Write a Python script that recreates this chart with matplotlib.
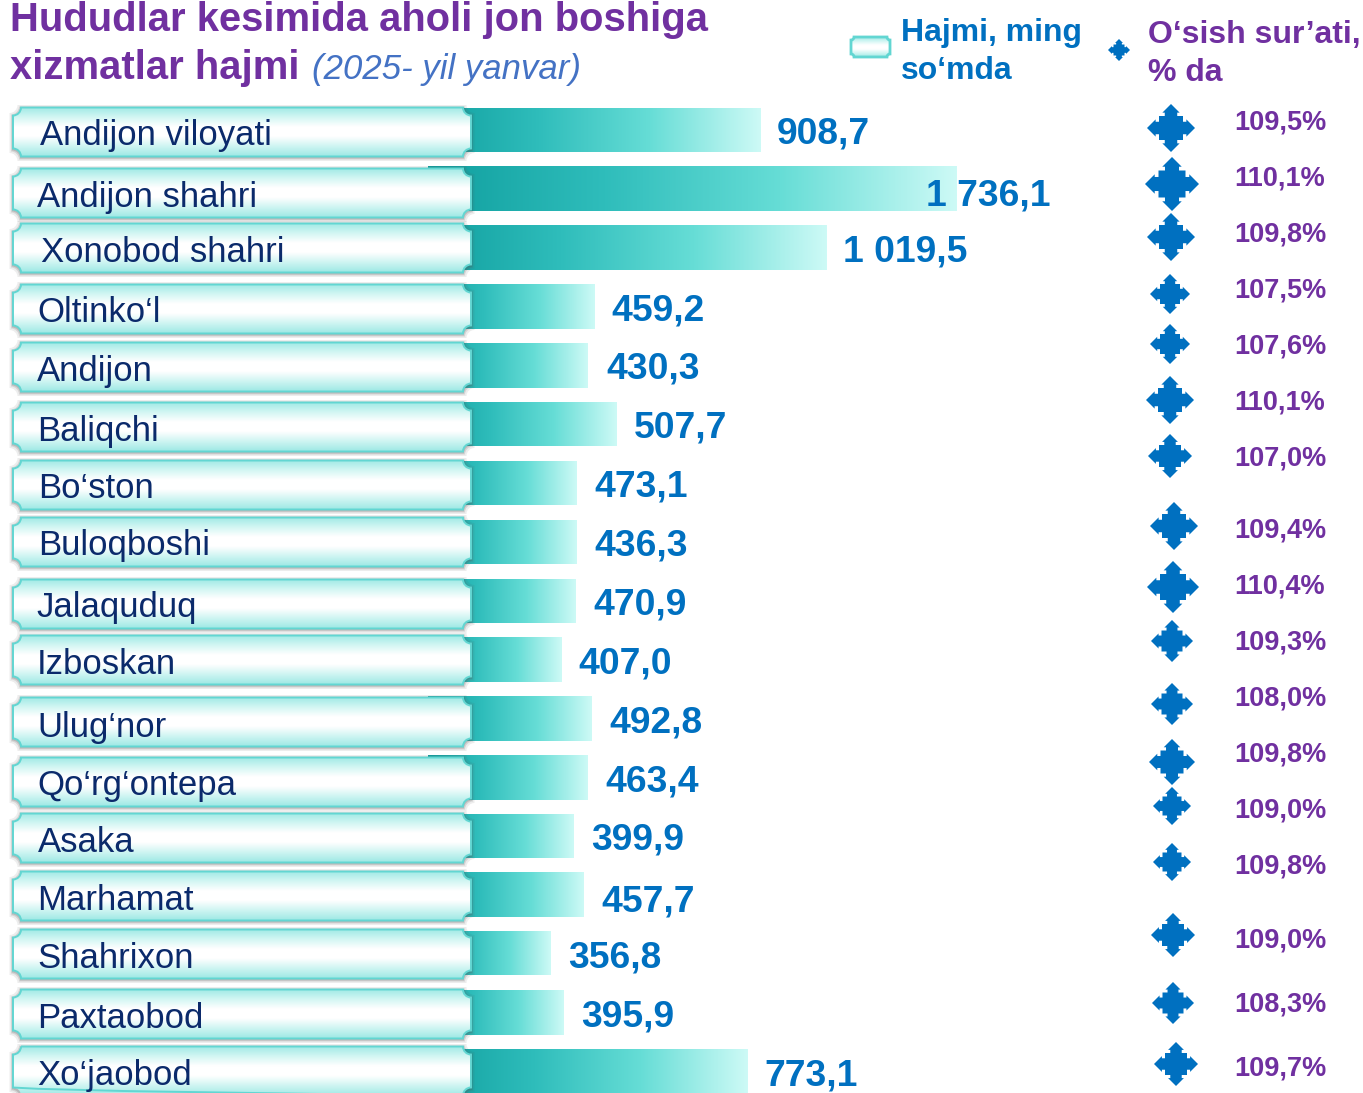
import numpy as np
import matplotlib
matplotlib.use("Agg")
import matplotlib.pyplot as plt
from matplotlib.path import Path
from matplotlib.patches import PathPatch, Rectangle
from matplotlib.colors import LinearSegmentedColormap

plt.rcParams['font.family'] = ['Liberation Sans', 'DejaVu Sans']

regions = ["Andijon viloyati", "Andijon shahri", "Xonobod shahri", "Oltinko‘l", "Andijon", "Baliqchi",
           "Bo‘ston", "Buloqboshi", "Jalaquduq", "Izboskan", "Ulug‘nor", "Qo‘rg‘ontepa", "Asaka",
           "Marhamat", "Shahrixon", "Paxtaobod", "Xo‘jaobod"]
value_labels = ["908,7", "1 736,1", "1 019,5", "459,2", "430,3", "507,7", "473,1", "436,3", "470,9",
                "407,0", "492,8", "463,4", "399,9", "457,7", "356,8", "395,9", "773,1"]
growth_labels = ["109,5%", "110,1%", "109,8%", "107,5%", "107,6%", "110,1%", "107,0%", "109,4%", "110,4%",
                 "109,3%", "108,0%", "109,8%", "109,0%", "109,8%", "109,0%", "108,3%", "109,7%"]
# drawn bar ends
bar_ends = [761, 957, 827, 595, 588, 617, 577, 577, 576, 562, 592, 588, 574, 584, 551, 564, 748]
bar_y = [130, 188.5, 247.5, 306.5, 365.5, 424, 483, 542, 601, 659.5, 718.5, 777.5, 836, 894.5, 953, 1012.5, 1071]
box_y = [132, 193, 248, 309, 367, 427, 485, 542, 604, 660, 722, 782, 838, 896, 954, 1014, 1071]
text_y = [136, 197, 252, 313, 371, 432, 489, 546, 608, 664, 727, 786, 842, 900, 958, 1019, 1075]
text_x = [40, 37, 41, 37, 37, 37, 38, 38, 36, 37, 37, 37, 38, 37, 37, 37, 37]
val_x = [777, 926, 843, 611, 606, 634, 594, 594, 593, 578, 609, 605, 591, 601, 568, 581, 764]
val_y = [134, 196, 252, 311, 369, 428, 487, 546, 605, 664, 723, 782, 840, 902, 958, 1017, 1076]
pct_y = [123, 179, 235, 291, 347, 403, 459, 531, 587, 643, 699, 755, 811, 867, 940, 1005, 1069]
mark_x = [1171, 1172, 1171, 1170, 1170, 1170, 1170, 1174, 1173, 1172, 1172, 1172, 1172, 1172, 1173, 1173, 1176]
mark_y = [128, 184, 237, 294, 344, 400, 456, 526, 587, 641, 704, 762, 806, 862, 935, 1003, 1064]
mark_s = [48, 54, 48, 40, 40, 48, 44, 48, 52, 42, 42, 46, 38, 38, 44, 42, 44]

PURPLE = "#7030A0"
BLUE = "#0070C0"
NAVY = "#0B2A6B"

fig = plt.figure(figsize=(13.63, 10.93), dpi=100)
ax = fig.add_axes([0, 0, 1, 1])
ax.set_xlim(0, 1363)
ax.set_ylim(1093, 0)
ax.axis("off")

bar_cmap = LinearSegmentedColormap.from_list("b", ["#109F9F", "#2FBDBB", "#66DDD6", "#CDFAF6"])
box_cmap = LinearSegmentedColormap.from_list("p", ["#9FE9E5", "#D2F6F3", "#FFFFFF", "#FFFFFF", "#CFF5F2", "#9FE9E5"])


def plaque(x0, x1, yc, h, r):
    y0, y1 = yc - h / 2, yc + h / 2
    k = 0.55 * r
    verts = [(x0 + r, y0), (x1 - r, y0),
             (x1 - r, y0 + k), (x1 - k, y0 + r), (x1, y0 + r),
             (x1, y1 - r),
             (x1 - k, y1 - r), (x1 - r, y1 - k), (x1 - r, y1),
             (x0 + r, y1),
             (x0 + r, y1 - k), (x0 + k, y1 - r), (x0, y1 - r),
             (x0, y0 + r),
             (x0 + k, y0 + r), (x0 + r, y0 + k), (x0 + r, y0),
             (x0 + r, y0)]
    codes = [Path.MOVETO, Path.LINETO,
             Path.CURVE4, Path.CURVE4, Path.CURVE4,
             Path.LINETO,
             Path.CURVE4, Path.CURVE4, Path.CURVE4,
             Path.LINETO,
             Path.CURVE4, Path.CURVE4, Path.CURVE4,
             Path.LINETO,
             Path.CURVE4, Path.CURVE4, Path.CURVE4,
             Path.CLOSEPOLY]
    return Path(verts, codes)


def draw_plaque(x0, x1, yc, h, r, lw, z, shadow=True):
    if shadow:
        for grow, alpha in [(7, 0.10), (4, 0.16), (2, 0.22)]:
            ax.add_patch(PathPatch(plaque(x0 - grow / 2, x1 + grow / 2, yc + 1, h + grow, r),
                                   fc="#555555", ec="none", alpha=alpha, zorder=z))
    p = plaque(x0, x1, yc, h, r)
    patch = PathPatch(p, fc="none", ec="none", zorder=z + 0.1)
    ax.add_patch(patch)
    grad = np.linspace(0, 1, 128).reshape(-1, 1)
    im = ax.imshow(grad, extent=(x0, x1, yc + h / 2, yc - h / 2), cmap=box_cmap, aspect="auto", zorder=z + 0.2)
    im.set_clip_path(patch)
    ax.add_patch(PathPatch(p, fc="none", ec="#62D6D2", lw=lw, zorder=z + 0.3))


def quad_arrow(size):
    u = size / 2
    a, b, c, d, e = 1.0 * u, 0.64 * u, 0.50 * u, 0.36 * u, 0.26 * u
    q = [(0, -a), (d, -b), (e, -b), (e, -c), (c, -c), (c, -e), (b, -e), (b, -d), (a, 0)]
    pts = list(q)
    # rotate the first quadrant outline by 90 degrees three times
    for k in range(1, 4):
        t = k * np.pi / 2
        cs, sn = round(np.cos(t)), round(np.sin(t))
        pts += [(cs * x - sn * y, sn * x + cs * y) for x, y in q[1:]]
    return np.array(pts)


for i, name in enumerate(regions):
    # bar
    rect = Rectangle((428, bar_y[i] - 22.5), bar_ends[i] - 428, 45, fc="none", ec="none", zorder=2)
    ax.add_patch(rect)
    grad = np.linspace(0, 1, 256).reshape(1, -1)
    im = ax.imshow(grad, extent=(428, bar_ends[i], bar_y[i] + 22.5, bar_y[i] - 22.5), cmap=bar_cmap,
                   aspect="auto", zorder=2)
    im.set_clip_path(rect)
    # plaque
    draw_plaque(13, 471, box_y[i], 49, 8, 1.4, 3)
    ax.text(text_x[i], text_y[i], name, fontsize=25, color=NAVY, va="center", ha="left", zorder=5)
    ax.text(val_x[i], val_y[i], value_labels[i], fontsize=26.8, fontweight="bold", color=BLUE,
            va="center", ha="left", zorder=6)
    ax.fill(*(quad_arrow(mark_s[i]) + [mark_x[i], mark_y[i]]).T, fc=BLUE, ec="none", zorder=4)
    ax.text(1280, pct_y[i], growth_labels[i], fontsize=19.5, fontweight="bold", color=PURPLE,
            va="center", ha="center", zorder=4)

# title
ax.text(10, 20, "Hududlar kesimida aholi jon boshiga", fontsize=28.8, fontweight="bold", color=PURPLE,
        va="center", ha="left")
ax.text(10, 68, "xizmatlar hajmi", fontsize=28.8, fontweight="bold", color=PURPLE, va="center", ha="left")
ax.text(312, 70, "(2025- yil yanvar)", fontsize=25, style="italic", color="#4472C4", va="center", ha="left")

# legend
draw_plaque(851, 890, 47, 20, 3, 2, 3, shadow=False)
ax.text(901, 33, "Hajmi, ming", fontsize=23, fontweight="bold", color=BLUE, va="center", ha="left")
ax.text(901, 71, "so‘mda", fontsize=23, fontweight="bold", color=BLUE, va="center", ha="left")
ax.fill(*(quad_arrow(22) + [1119, 50]).T, fc=BLUE, ec="none")
ax.text(1148, 35, "O‘sish sur’ati,", fontsize=23, fontweight="bold", color=PURPLE, va="center", ha="left")
ax.text(1148, 73, "% da", fontsize=23, fontweight="bold", color=PURPLE, va="center", ha="left")

ax.set_xlim(0, 1363)
ax.set_ylim(1093, 0)
fig.savefig("out.png", dpi=100)
